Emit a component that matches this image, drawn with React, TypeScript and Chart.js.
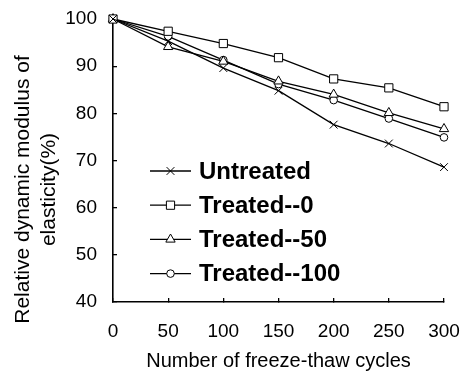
import React, { useEffect, useRef } from "react";
import { Chart, registerables, PointElement } from "chart.js";

Chart.register(...registerables);

const cycles = [0, 50, 100, 150, 200, 250, 300];
const untreated = [100, 95.3, 89.6, 84.8, 77.6, 73.6, 68.6];
const treated0 = [100, 97.4, 94.8, 91.8, 87.3, 85.4, 81.4];
const treated50 = [100, 94.1, 91.0, 86.8, 84.0, 80.1, 76.7];
const treated100 = [100, 96.3, 91.3, 86.2, 82.8, 78.9, 74.9];
const seriesNames = ["Untreated", "Treated--0", "Treated--50", "Treated--100"];
const yTitleLines = ["Relative dynamic modulus of", "elasticity(%)"];
const xTitle = "Number of freeze-thaw cycles";

const FONT = "'Liberation Sans', Arial, sans-serif";

const legendPlugin = {
  id: "lineLegend",
  afterDraw(chart: any) {
    const { ctx, chartArea } = chart;
    const x0 = chartArea.left + 37;
    const y0 = chartArea.top + 152;
    const rowH = 34.2;
    ctx.save();
    chart.data.datasets.forEach((ds: any, i: number) => {
      const y = y0 + i * rowH;
      ctx.strokeStyle = "#000";
      ctx.lineWidth = 1.3;
      ctx.beginPath();
      ctx.moveTo(x0, y);
      ctx.lineTo(x0 + 41, y);
      ctx.stroke();
      const pt: any = new (PointElement as any)({});
      pt.x = x0 + 20.5;
      pt.y = y;
      pt.options = {
        pointStyle: ds.pointStyle,
        radius: ds.pointRadius,
        borderWidth: 1,
        borderColor: "#000",
        backgroundColor: "#fff",
        rotation: 0,
      };
      pt.draw(ctx);
      ctx.fillStyle = "#000";
      ctx.font = `bold 24px ${FONT}`;
      ctx.textAlign = "left";
      ctx.textBaseline = "middle";
      ctx.fillText(ds.label, x0 + 49, y + 1);
    });
    ctx.restore();
  },
};

const yTitlePlugin = {
  id: "yTitle",
  afterDraw(chart: any) {
    const { ctx, chartArea } = chart;
    ctx.save();
    ctx.fillStyle = "#000";
    ctx.font = `21px ${FONT}`;
    ctx.textAlign = "center";
    ctx.textBaseline = "middle";
    const cy = (chartArea.top + chartArea.bottom) / 2 + 29;
    yTitleLines.forEach((line, i) => {
      ctx.save();
      ctx.translate(23 + i * 26, cy);
      ctx.rotate(-Math.PI / 2);
      ctx.fillText(line, 0, 0);
      ctx.restore();
    });
    ctx.restore();
  },
};

export default function App() {
  const ref = useRef<HTMLCanvasElement>(null);
  useEffect(() => {
    if (!ref.current) return;
    const values = [untreated, treated0, treated50, treated100];
    const styles = ["crossRot", "rect", "triangle", "circle"];
    const radii = [5.5, 5.8, 5.4, 3.8];
    const zeroPad = (s: any) => {
      s.paddingTop = 0;
      s.paddingBottom = 0;
      s.paddingLeft = 0;
      s.paddingRight = 0;
    };
    const chart = new Chart(ref.current, {
      type: "line",
      data: {
        datasets: values.map((vals, i) => ({
          label: seriesNames[i],
          data: vals.map((v, j) => ({ x: cycles[j], y: v })),
          borderColor: "#000",
          borderWidth: 1.3,
          pointStyle: styles[i],
          pointRadius: radii[i],
          pointBorderWidth: 1,
          pointBorderColor: "#000",
          pointBackgroundColor: "#fff",
          fill: false,
          tension: 0,
          clip: false,
        })),
      },
      options: {
        animation: false,
        responsive: false,
        maintainAspectRatio: false,
        layout: { padding: { left: 0, top: 19, right: 17, bottom: 0 } },
        plugins: { legend: { display: false }, tooltip: { enabled: false } },
        scales: {
          x: {
            type: "linear",
            min: 0,
            max: 300,
            afterFit: (s: any) => {
              s.height = 71;
              zeroPad(s);
            },
            ticks: {
              stepSize: 50,
              color: "#000",
              padding: 22,
              font: { family: FONT, size: 19 },
              maxRotation: 0,
            },
            grid: {
              drawOnChartArea: false,
              drawTicks: true,
              tickLength: -4,
              color: "#000",
              lineWidth: 1.3,
            },
            border: { display: true, color: "#000", width: 1.6 },
            title: {
              display: true,
              text: xTitle,
              color: "#000",
              font: { family: FONT, size: 20 },
              padding: { top: 0, bottom: 0 },
            },
          },
          y: {
            type: "linear",
            min: 40,
            max: 100,
            afterFit: (s: any) => {
              s.width = 113;
              zeroPad(s);
            },
            ticks: {
              stepSize: 10,
              color: "#000",
              padding: 20,
              font: { family: FONT, size: 19 },
            },
            grid: {
              drawOnChartArea: false,
              drawTicks: true,
              tickLength: -4,
              color: "#000",
              lineWidth: 1.3,
            },
            border: { display: true, color: "#000", width: 1.6 },
          },
        },
      },
      plugins: [legendPlugin, yTitlePlugin],
    } as any);
    return () => chart.destroy();
  }, []);
  return (
    <div style={{ position: "fixed", left: 0, top: 0, width: 461, height: 373, background: "#fff" }}>
      <canvas ref={ref} width={461} height={373} style={{ width: 461, height: 373 }} />
    </div>
  );
}
